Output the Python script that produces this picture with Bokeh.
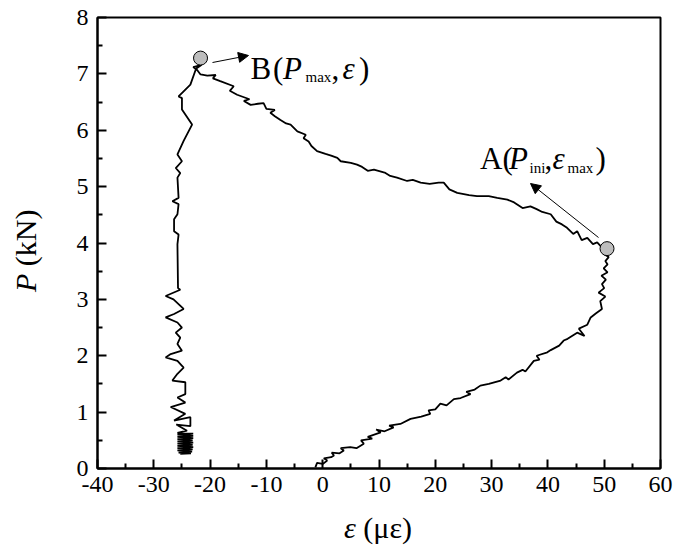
import math
from bokeh.plotting import figure
from bokeh.layouts import column, row
from bokeh.models import Label, Arrow, NormalHead, Range1d, FixedTicker, Div
from bokeh.embed import file_html
from bokeh.resources import INLINE

# ---------------- data ----------------
strain = [
    # loading branch (origin -> A)
    -1.3, -1.0, 0.0, 0.8, 0.2, 1.5, 2.0, 1.6, 3.0, 3.75, 3.2, 4.9, 6.0, 7.3, 6.8, 8.8, 8.0,
    10.3, 9.5, 11.0, 12.6, 11.8, 13.8, 15.6, 17.5, 19.1, 18.8, 20.0, 20.9, 22.0, 23.3, 24.5,
    26.25, 25.5, 27.0, 28.0, 29.5, 31.6, 32.5, 33.0, 34.5, 35.5, 36.0, 37.5, 38.5, 38.0, 39.9,
    40.5, 42.0, 42.8, 43.5, 45.2, 46.5, 45.5, 47.0, 47.6, 48.5, 49.6, 49.3, 50.2, 49.0, 50.0,
    49.6, 50.3, 49.5, 50.6, 49.9, 50.6, 50.2, 50.8, 50.0, 50.5,
    # post-cracking branch (A -> B)
    49.5, 48.75, 48.0, 47.0, 46.0, 45.2, 44.5, 43.4, 42.5, 41.5, 40.5, 39.0, 38.0, 36.9, 35.5,
    34.0, 32.8, 31.0, 29.5, 27.4, 26.0, 23.9, 22.5, 21.5, 20.6, 19.0, 17.4, 16.0, 15.0, 13.2,
    12.0, 11.0, 9.1, 8.0, 7.0, 6.1, 5.0, 3.2, 2.6, 1.5, 0.5, -1.0, -2.0, -2.5, -3.4, -3.0,
    -4.5, -5.7, -6.5, -7.5, -8.5, -9.3, -8.5, -10.0, -10.5, -11.5, -12.8, -14.0, -13.0, -15.2,
    -16.5, -15.8, -18.2, -19.5, -19.0, -20.5, -21.7, -22.3, -23.0, -21.5, -22.5,
    # unloading branch (B -> end)
    -23.5, -24.7, -25.6, -25.0, -25.0, -23.2, -24.7, -25.8, -25.0, -26.1, -25.3, -25.8, -25.6,
    -26.7, -25.6, -25.8, -26.4, -26.4, -25.6, -25.8, -25.7, -25.3, -27.9, -26.5, -24.7, -26.4,
    -27.9, -25.8, -25.0, -26.1, -25.3, -25.8, -25.0, -27.0, -27.9, -25.8, -24.7, -25.8, -26.7,
    -24.4, -24.4, -25.8, -24.4, -27.0, -24.4, -26.4, -23.5, -23.5, -26.0, -24.1, -25.8,
    -23.0, -25.8, -23.0, -25.8, -23.0, -25.8, -23.1, -25.8, -23.0, -25.8, -23.1, -25.8,
    -23.0, -25.8, -23.1, -25.8, -23.2, -25.6, -23.4, -25.3,
]
load = [
    0.02, 0.10, 0.08, 0.14, 0.18, 0.20, 0.23, 0.28, 0.27, 0.32, 0.36, 0.38, 0.36, 0.44, 0.50, 0.53, 0.56,
    0.64, 0.69, 0.66, 0.73, 0.76, 0.79, 0.88, 0.92, 0.97, 1.03, 1.05, 1.15, 1.12, 1.23, 1.25,
    1.32, 1.36, 1.40, 1.47, 1.50, 1.56, 1.62, 1.58, 1.70, 1.75, 1.72, 1.91, 1.93, 2.00, 2.06,
    2.10, 2.18, 2.27, 2.30, 2.41, 2.35, 2.48, 2.55, 2.68, 2.75, 2.83, 2.97, 3.05, 3.12, 3.20,
    3.27, 3.35, 3.42, 3.48, 3.55, 3.62, 3.68, 3.75, 3.80, 3.86,
    3.93, 4.01, 3.98, 4.09, 4.05, 4.21, 4.16, 4.27, 4.33, 4.38, 4.51, 4.55, 4.60, 4.65, 4.62,
    4.72, 4.77, 4.80, 4.83, 4.83, 4.85, 4.89, 4.95, 5.07, 5.07, 5.05, 5.07, 5.12, 5.10, 5.16,
    5.19, 5.25, 5.30, 5.28, 5.35, 5.39, 5.42, 5.45, 5.51, 5.55, 5.58, 5.63, 5.72, 5.80, 5.86, 5.92,
    5.98, 6.10, 6.12, 6.18, 6.25, 6.31, 6.36, 6.38, 6.48, 6.47, 6.45, 6.52, 6.55, 6.63,
    6.70, 6.78, 6.87, 6.92, 6.98, 6.97, 6.99, 7.07, 7.12, 7.16, 7.09,
    6.81, 6.69, 6.60, 6.57, 6.37, 6.10, 5.81, 5.57, 5.45, 5.33, 5.24, 5.16, 4.80,
    4.74, 4.69, 4.51, 4.42, 4.21, 4.15, 3.98, 3.20, 3.17, 3.06, 3.00, 2.83, 2.74,
    2.68, 2.59, 2.50, 2.41, 2.32, 2.21, 2.09, 2.03, 1.97, 1.91, 1.79, 1.68, 1.56,
    1.53, 1.32, 1.26, 1.17, 1.09, 0.97, 0.85, 0.91, 0.75, 0.78, 0.67, 0.63,
    0.62, 0.60, 0.58, 0.56, 0.54, 0.52, 0.50, 0.48, 0.46, 0.44, 0.42, 0.40,
    0.38, 0.36, 0.34, 0.32, 0.30, 0.28, 0.27, 0.26,
]
point_names = ["A", "B"]
point_strain = [50.5, -21.7]
point_load = [3.90, 7.28]

x_ticks = [-40, -30, -20, -10, 0, 10, 20, 30, 40, 50, 60]
x_minor = [-35, -25, -15, -5, 5, 15, 25, 35, 45, 55]
y_ticks = [0, 1, 2, 3, 4, 5, 6, 7, 8]
y_minor = [0.5, 1.5, 2.5, 3.5, 4.5, 5.5, 6.5, 7.5]

# ---------------- layout (canvas pixels) ----------------
W, H = 673, 545
YLAB_W = 45            # width of the strip holding the y title
PLOT_H = 510           # height of the figure; below it the x title strip
FRAME_L, FRAME_R, FRAME_T, FRAME_B = 97, 660, 17, 468
FW, FH = FRAME_R - FRAME_L, FRAME_B - FRAME_T
X0, X1 = x_ticks[0], x_ticks[-1]
Y0, Y1 = y_ticks[0], y_ticks[-1]

def sx(px):
    return X0 + (px - FRAME_L) * (X1 - X0) / FW

def sy(py):
    return Y1 - (py - FRAME_T) * (Y1 - Y0) / FH

FONT = "Liberation Serif"

p = figure(width=W - YLAB_W, height=PLOT_H, x_range=Range1d(X0, X1), y_range=Range1d(Y0, Y1),
           output_backend="svg", toolbar_location=None,
           min_border_left=FRAME_L - YLAB_W, min_border_right=W - FRAME_R,
           min_border_top=FRAME_T, min_border_bottom=PLOT_H - FRAME_B)
p.xgrid.visible = False
p.ygrid.visible = False
p.outline_line_color = "black"
p.outline_line_width = 2
p.outline_line_alpha = 1.0
p.background_fill_color = "white"
p.border_fill_color = "white"

p.xaxis.ticker = FixedTicker(ticks=x_ticks, minor_ticks=x_minor)
p.yaxis.ticker = FixedTicker(ticks=y_ticks, minor_ticks=y_minor)
p.xaxis.major_label_overrides = {t: str(t) for t in x_ticks}
p.yaxis.major_label_overrides = {t: str(t) for t in y_ticks}
for ax in (p.xaxis[0], p.yaxis[0]):
    ax.axis_line_width = 2
    ax.axis_line_color = "black"
    ax.major_tick_in = 9
    ax.major_tick_out = 0
    ax.minor_tick_in = 5
    ax.minor_tick_out = 0
    ax.major_tick_line_width = 2
    ax.minor_tick_line_width = 2
    ax.major_tick_line_color = "black"
    ax.minor_tick_line_color = "black"
    ax.major_label_text_font = FONT
    ax.major_label_text_font_size = "24px"
    ax.major_label_text_color = "black"
p.xaxis.major_label_standoff = 8
p.yaxis.major_label_standoff = 9

# ---------------- data marks ----------------
p.line(strain, load, line_color="black", line_width=1.8)
p.scatter(point_strain, point_load, size=14, fill_color="#BDBDBD",
          line_color="black", line_width=1)

# ---------------- in-plot annotations ----------------
def txt(px, py, s, size=31, italic=False):
    p.add_layout(Label(x=sx(px), y=sy(py), text=s, text_font=FONT,
                       text_font_size=f"{size}px",
                       text_font_style="italic" if italic else "normal",
                       text_color="black", text_align="left",
                       text_baseline="alphabetic"))

# B (P_max, ε)
txt(250, 68, "B")
txt(272.5, 68, "(")
txt(282.5, 68, "P", italic=True)
txt(305, 76.5, "max", size=15)
txt(331, 68, ",")
txt(342, 68, "ε", italic=True)
txt(358.5, 68, ")")

# A (P_ini, ε_max)
txt(479.5, 158, "A")
txt(502, 158, "(")
txt(508.5, 158, "P", italic=True)
txt(529, 167, "ini", size=15)
txt(544, 158, ",")
txt(552, 158, "ε", italic=True)
txt(567, 167, "max", size=15)
txt(595, 158, ")")

p.add_layout(Arrow(x_start=sx(212), y_start=sy(62), x_end=sx(248), y_end=sy(55),
                   line_color="black", line_width=1,
                   end=NormalHead(size=10, fill_color="black", line_color="black", line_width=1)))
p.add_layout(Arrow(x_start=sx(598), y_start=sy(237), x_end=sx(530), y_end=sy(183),
                   line_color="black", line_width=1,
                   end=NormalHead(size=10, fill_color="black", line_color="black", line_width=1)))

# ---------------- axis titles (HTML, so that only P / ε are italic) ----------------
TITLE_STYLE = ("position:absolute; white-space:nowrap; margin:0; padding:0; "
               f"font-family:'{FONT}'; font-size:30px; line-height:30px; color:black;")
ASC = 30 * 0.891 + (30 - 30 * 1.107) / 2   # baseline offset within the line box

y_title = Div(
    text=(f'<div style="position:relative; width:{YLAB_W}px; height:{PLOT_H}px; margin:0; padding:0;">'
          f'<span style="{TITLE_STYLE} left:{36 - ASC:.1f}px; top:292px; '
          'transform:rotate(-90deg); transform-origin:0 0;"><i>P</i> (kN)</span></div>'),
    width=YLAB_W, height=PLOT_H, margin=(0, 0, 0, 0))

x_title = Div(
    text=(f'<div style="position:relative; width:{W}px; height:{H - PLOT_H}px; margin:0; padding:0;">'
          f'<span style="{TITLE_STYLE} left:344px; top:{538 - PLOT_H - ASC:.1f}px;">'
          '<i>ε</i> (με)</span></div>'),
    width=W, height=H - PLOT_H, margin=(0, 0, 0, 0))

layout = column(row(y_title, p, spacing=0), x_title, spacing=0)

open("out.html", "w").write(file_html(layout, INLINE))
